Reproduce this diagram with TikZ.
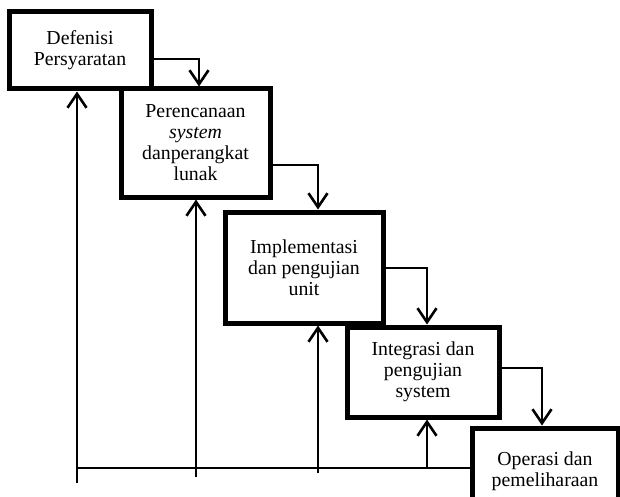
\documentclass[tikz,border=0pt]{standalone}
\usepackage{fontspec}
\setmainfont{Liberation Serif}
\usetikzlibrary{arrows.meta,calc}
\begin{document}
\begin{tikzpicture}[x=1pt,y=-1pt,
  box/.style={draw=black,line width=5pt,fill=white,inner sep=0pt,align=center,
    font=\fontsize{19.8}{21}\selectfont},
  conn/.style={line width=2pt},
  arr/.style={conn,-{Straight Barb[length=14pt,width=19pt,line width=2.6pt]}}]
\useasboundingbox (0,0) rectangle (620,497);
\begin{scope}
\clip (0,0) rectangle (620,497);
\node[box,minimum width=142pt,minimum height=77pt] (b1) at (80,50.5) {Defenisi\\Persyaratan};
\node[box,minimum width=149pt,minimum height=108pt] (b2) at (195.5,143) {Perencanaan\\\textit{system}\\danperangkat\\lunak};
\node[box,minimum width=158pt,minimum height=111pt] (b3) at (304,267.5) {Implementasi\\dan pengujian\\unit};
\node[box,minimum width=152pt,minimum height=90pt] (b4) at (423,372) {Integrasi dan\\pengujian\\system};
\node[box,minimum width=146pt,minimum height=86pt] (b5) at (545,471) {Operasi dan\\pemeliharaan};
\end{scope}
% forward arrows
\draw[arr] ($(b1.east)+(0,8.5)$) -| ($(b2.north)+(3.5,0)$);
\draw[arr] ($(b2.east)+(0,22)$) -| ($(b3.north)+(14,0)$);
\draw[arr] ($(b3.east)+(0,0.5)$) -| ($(b4.north)+(4,0)$);
\draw[arr] ($(b4.east)+(0,-4)$) -| ($(b5.north)+(-3,0)$);
% feedback
\coordinate (f1) at (77,483);
\coordinate (f2) at (196,477);
\coordinate (f3) at (318,473);
\coordinate (f4) at (427,468);
\coordinate (h0) at (77,468);
\draw[conn] (h0) -- ($(b5.west)+(0,-3)$);
\draw[arr] (f1) -- ($(b1.south)+(-3,0)$);
\draw[arr] (f2) -- ($(b2.south)+(0.5,0)$);
\draw[arr] (f3) -- ($(b3.south)+(14,0)$);
\draw[arr] (f4) -- ($(b4.south)+(4,0)$);
\end{tikzpicture}
\end{document}
